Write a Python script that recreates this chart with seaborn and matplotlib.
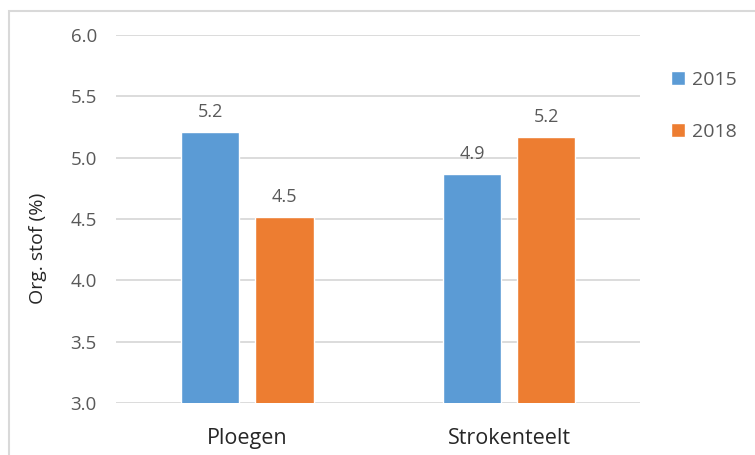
import pandas as pd
import matplotlib.pyplot as plt
import seaborn as sns
from matplotlib.patches import Rectangle

# --- data ---
categories = ['Ploegen', 'Strokenteelt']
years = ['2015', '2018']
values_2015 = [5.21, 4.87]
values_2018 = [4.52, 5.17]

df = pd.DataFrame({
    'Behandeling': categories * 2,
    'Jaar': [years[0]] * 2 + [years[1]] * 2,
    'Org. stof': values_2015 + values_2018,
})

sns.set_style('white')
plt.rcParams['font.family'] = ['Open Sans', 'DejaVu Sans']

fig = plt.figure(figsize=(7.55, 4.55), dpi=100)
ax = fig.add_axes([0.154, 0.114, 0.694, 0.809])

sns.barplot(data=df, x='Behandeling', y='Org. stof', hue='Jaar',
            palette=['#5b9bd5', '#ed7d31'], saturation=1,
            width=0.567, gap=0.216, ax=ax, legend=True)

ax.set_ylim(3.0, 6.0)
ax.set_xlim(-0.5, 1.5)
ax.set_yticks([3.0, 3.5, 4.0, 4.5, 5.0, 5.5, 6.0])
ax.set_yticklabels([f'{t:.1f}' for t in ax.get_yticks()])
ax.yaxis.grid(True, color='#d9d9d9', linewidth=1.3)
ax.set_axisbelow(True)
for s in ax.spines.values():
    s.set_visible(False)
ax.tick_params(axis='y', length=0, pad=14, labelsize=13.5, labelcolor='#595959')
ax.tick_params(axis='x', length=0, pad=18, labelsize=15.5, labelcolor='#262626')
ax.set_xlabel('')
ax.set_ylabel('Org. stof (%)', fontsize=14, color='#262626')
ax.yaxis.set_label_coords(-0.132, 0.42)

for cont in ax.containers:
    ax.bar_label(cont, fmt='%.1f', padding=8, fontsize=13, color='#595959')

leg = ax.legend(loc='upper left', bbox_to_anchor=(1.025, 0.95), frameon=False,
                fontsize=14, handlelength=0.75, handleheight=0.75,
                handletextpad=0.35, labelspacing=1.75)
for t in leg.get_texts():
    t.set_color('#595959')

# light border of the chart area
fig.patches.append(Rectangle((9 / 755, -0.1), 1.2, 1 - 11 / 455 + 0.1,
                             transform=fig.transFigure, fill=False,
                             edgecolor='#d9d9d9', linewidth=1.5))

fig.savefig('out.png', dpi=100)
